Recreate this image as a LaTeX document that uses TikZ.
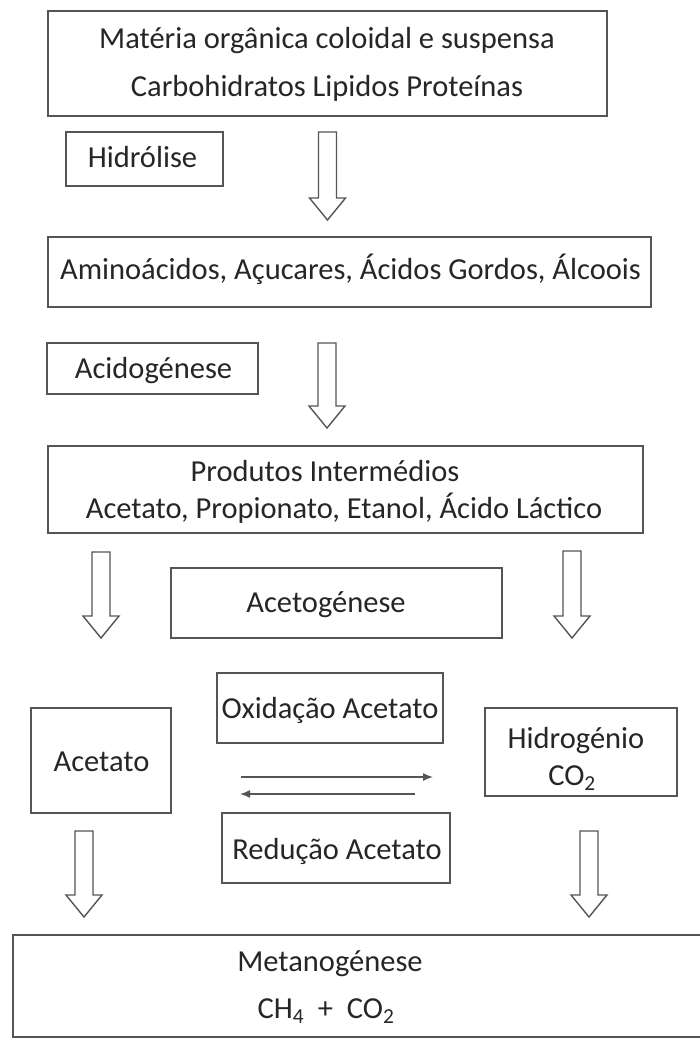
\documentclass[tikz,border=0pt]{standalone}
\usepackage{fontspec}
\setmainfont{Carlito}
\usetikzlibrary{arrows.meta}
\definecolor{boxgray}{HTML}{555555}
\definecolor{txtgray}{HTML}{262626}
\newcommand\hollowarr[3]{%
  \draw[harrow] (#1-9,#2) -- (#1+9,#2) -- (#1+9,#3-22) -- (#1+18,#3-22) -- (#1,#3) -- (#1-18,#3-22) -- (#1-9,#3-22) -- cycle;}
\begin{document}
\begin{tikzpicture}[x=1pt,y=-1pt,
  box/.style={draw=boxgray,line width=1.8pt,rectangle,inner sep=0pt},
  txt/.style={font=\fontsize{30.5}{36}\selectfont,text=txtgray,inner sep=0pt,text height=0.62em,text depth=0.12em,yshift=-6pt},
  harrow/.style={draw=boxgray,line width=1.4pt,fill=white,line join=miter},
  thin/.style={draw=boxgray,line width=1.4pt,-{Latex[length=10pt,width=8pt]}}]
\useasboundingbox (0,0) rectangle (700,1039);
\fill[white] (0,0) rectangle (700,1039);
% boxes
\node[box,minimum width=559pt,minimum height=105pt] (b1) at (327.5,63.5) {};
\node[box,minimum width=157pt,minimum height=54pt] (hid) at (144.5,159) {};
\node[box,minimum width=603pt,minimum height=70pt] (b2) at (349.5,272) {};
\node[box,minimum width=211pt,minimum height=51pt] (acid) at (152.5,368.5) {};
\node[box,minimum width=595pt,minimum height=87pt] (b3) at (345.5,489.5) {};
\node[box,minimum width=331pt,minimum height=70pt] (aceto) at (336.5,603) {};
\node[box,minimum width=226pt,minimum height=70pt] (oxi) at (330,708) {};
\node[box,minimum width=140pt,minimum height=105pt] (acet) at (101,760.5) {};
\node[box,minimum width=192pt,minimum height=88pt] (hyd) at (581,752) {};
\node[box,minimum width=228pt,minimum height=70pt] (red) at (336,848) {};
\node[box,minimum width=697pt,minimum height=102pt] (met) at (361.5,986) {};
% texts
\node[txt] (t1a) at (327,40) {Matéria orgânica coloidal e suspensa};
\node[txt] (t1b) at (327,88) {Carbohidratos Lipidos Proteínas};
\node[txt] (thid) at (142.5,159) {Hidrólise};
\node[txt] (t2) at (350.5,271) {Aminoácidos, Açucares, Ácidos Gordos, Álcoois};
\node[txt] (tacid) at (153.5,370) {Acidogénese};
\node[txt] (t3a) at (325,473) {Produtos Intermédios};
\node[txt] (t3b) at (344,510) {Acetato, Propionato, Etanol, Ácido Láctico};
\node[txt] (taceto) at (326,604) {Acetogénese};
\node[txt] (toxi) at (330,710) {Oxidação Acetato};
\node[txt] (tacet) at (101.5,763) {Acetato};
\node[txt] (thyd1) at (576,740) {Hidrogénio};
\node[txt] (thyd2) at (572,777) {CO\textsubscript{2}};
\node[txt] (tred) at (337,851) {Redução Acetato};
\node[txt] (tmet1) at (330,963) {Metanogénese};
\node[txt] (tmet2) at (326,1010) {CH\textsubscript{4}~~+~~CO\textsubscript{2}};
% hollow arrows
\hollowarr{327.5}{132}{220}
\hollowarr{327}{343}{428}
\hollowarr{101}{552}{638}
\hollowarr{572}{551}{638}
\hollowarr{84}{831}{917}
\hollowarr{589}{831}{917}
% thin arrows between oxidation and reduction
\coordinate (ra) at (241,777);
\coordinate (rb) at (433,777);
\coordinate (la) at (415,794);
\coordinate (lb) at (240,794);
\draw[thin] (ra) -- (rb);
\draw[thin] (la) -- (lb);
\end{tikzpicture}
\end{document}
